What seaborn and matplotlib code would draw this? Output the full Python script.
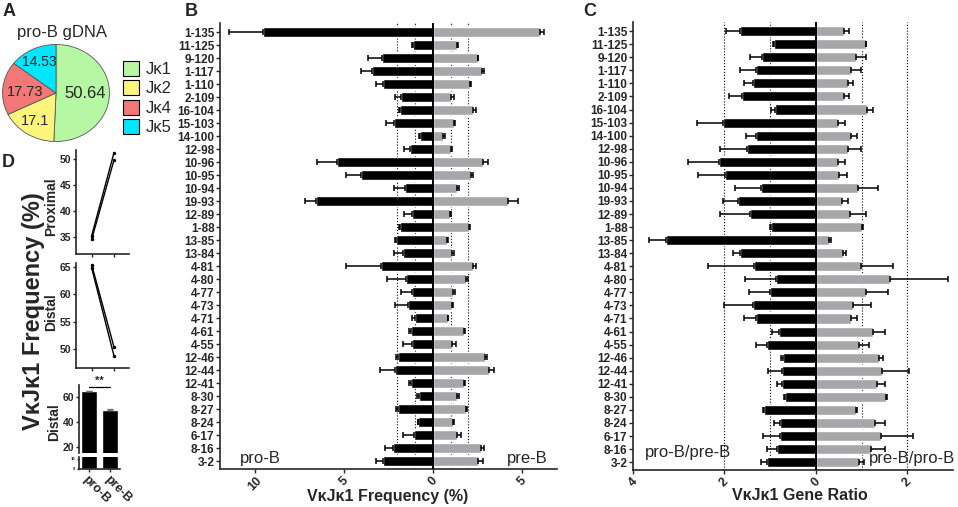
import numpy as np
import pandas as pd
import matplotlib
matplotlib.use("Agg")
import matplotlib.pyplot as plt
from matplotlib.patches import Patch
from matplotlib.ticker import FuncFormatter
import seaborn as sns

# ---- data -------------------------------------------------------------
genes = ["1-135", "11-125", "9-120", "1-117", "1-110", "2-109", "16-104", "15-103",
         "14-100", "12-98", "10-96", "10-95", "10-94", "19-93", "12-89", "1-88",
         "13-85", "13-84", "4-81", "4-80", "4-77", "4-73", "4-71", "4-61", "4-55",
         "12-46", "12-44", "12-41", "8-30", "8-27", "8-24", "6-17", "8-16", "3-2"]

# B: VkJk1 frequency (%), pro-B drawn to the left
freq_pro = [9.59, 1.13, 2.84, 3.41, 2.79, 1.77, 1.85, 2.18, 0.71, 1.28, 5.39, 4.03,
            1.56, 6.59, 1.19, 1.85, 2.07, 1.66, 2.90, 1.49, 1.15, 1.39, 1.00, 1.24,
            1.19, 1.99, 2.11, 1.24, 0.79, 1.99, 0.81, 1.07, 2.22, 2.79]
freq_pro_sem = [1.88, 0.05, 0.79, 0.62, 0.41, 0.36, 0.05, 0.44, 0.06, 0.34, 1.16, 0.89,
                0.62, 0.59, 0.43, 0.05, 0.06, 0.52, 2.02, 1.07, 0.62, 0.74, 0.20, 0.13,
                0.49, 0.06, 0.87, 0.13, 0.13, 0.06, 0.03, 0.64, 0.47, 0.43]
freq_pre = [6.06, 1.36, 2.52, 2.75, 2.11, 1.05, 2.28, 1.17, 0.60, 1.02, 2.81, 2.15,
            1.39, 4.25, 0.94, 2.05, 0.79, 1.07, 2.26, 1.88, 1.15, 1.07, 0.83, 1.73,
            1.09, 2.96, 3.15, 1.73, 1.36, 1.88, 1.11, 1.39, 2.71, 2.56]
freq_pre_sem = [0.19, 0.04, 0.04, 0.15, 0.04, 0.15, 0.15, 0.09, 0.06, 0.07, 0.32, 0.11,
                0.08, 0.53, 0.08, 0.02, 0.04, 0.13, 0.17, 0.12, 0.09, 0.06, 0.04, 0.10,
                0.23, 0.07, 0.31, 0.10, 0.13, 0.06, 0.09, 0.19, 0.19, 0.25]

# C: gene ratios
ratio_pro = [1.65, 0.91, 1.17, 1.32, 1.38, 1.62, 0.89, 2.04, 1.30, 1.51, 2.12, 1.98,
             1.20, 1.70, 1.45, 0.99, 3.28, 1.65, 1.36, 0.87, 1.00, 1.38, 1.32, 0.80,
             1.07, 0.72, 0.75, 0.75, 0.67, 1.14, 0.78, 0.78, 0.85, 1.07]
ratio_pro_sem = [0.32, 0.02, 0.28, 0.35, 0.19, 0.29, 0.10, 0.57, 0.22, 0.58, 0.67, 0.59,
                 0.56, 0.34, 0.64, 0.02, 0.37, 0.16, 1.00, 0.67, 0.46, 0.63, 0.25, 0.17,
                 0.23, 0.04, 0.29, 0.11, 0.02, 0.02, 0.13, 0.38, 0.21, 0.13]
ratio_pre = [0.62, 1.09, 0.87, 0.77, 0.71, 0.62, 1.12, 0.49, 0.76, 0.70, 0.48, 0.51,
             0.92, 0.58, 0.75, 1.01, 0.29, 0.60, 0.98, 1.63, 1.09, 0.81, 0.76, 1.25,
             0.94, 1.39, 1.45, 1.34, 1.54, 0.87, 1.29, 1.43, 1.21, 0.94]
ratio_pre_sem = [0.10, 0.01, 0.22, 0.21, 0.11, 0.10, 0.13, 0.15, 0.13, 0.28, 0.16, 0.18,
                 0.44, 0.12, 0.34, 0.02, 0.04, 0.05, 0.70, 1.27, 0.49, 0.39, 0.15, 0.27,
                 0.22, 0.08, 0.58, 0.18, 0.02, 0.02, 0.23, 0.69, 0.31, 0.11]

# A: pie
jk_labels = ["Jκ1", "Jκ2", "Jκ4", "Jκ5"]
jk_values = [50.64, 17.1, 17.73, 14.53]
jk_colors = ["#b5f7a3", "#fdf47c", "#f27878", "#00e6ff"]

# D
stages = ["pro-B", "pre-B"]
proximal_rep1 = [35.2, 51.2]
proximal_rep2 = [34.5, 49.8]
distal_rep1 = [65.4, 50.3]
distal_rep2 = [64.8, 48.7]
distal_mean = [65.1, 49.4]
distal_sem = [0.35, 0.8]

GRAY = "#a7a7a9"

sns.set_style("ticks")
plt.rcParams['font.family'] = ['Liberation Sans', 'DejaVu Sans']
plt.rcParams['font.weight'] = 'bold'
plt.rcParams['axes.linewidth'] = 1.2
plt.rcParams['xtick.major.width'] = 1.0
plt.rcParams['ytick.major.width'] = 1.0
plt.rcParams['xtick.major.size'] = 3
plt.rcParams['ytick.major.size'] = 3

W, H = 958, 507
fig = plt.figure(figsize=(W / 100, H / 100), dpi=100)


def box(l, t, r, b):
    return [l / W, 1 - b / H, (r - l) / W, (b - t) / H]


def split_bars(ax, left, left_err, right, right_err, xlim, xticks):
    n = len(genes)
    df = pd.DataFrame({"gene": genes * 2,
                       "value": list(-np.array(left)) + list(right),
                       "group": ["left"] * n + ["right"] * n})
    sns.barplot(data=df, x="value", y="gene", hue="group", dodge=False, orient="h",
                palette={"left": "black", "right": GRAY}, width=0.77, errorbar=None,
                legend=False, ax=ax, zorder=2)
    y = np.arange(n)
    z = np.zeros(n)
    ax.errorbar(-np.array(left), y, xerr=[left_err, z], fmt="none", ecolor="black",
                elinewidth=1.1, capsize=2, capthick=1.1, zorder=3)
    ax.errorbar(right, y, xerr=[z, right_err], fmt="none", ecolor="black",
                elinewidth=1.1, capsize=2, capthick=1.1, zorder=3)
    for v in (-2, -1, 1, 2):
        ax.axvline(v, color="black", ls=":", lw=0.8, zorder=1)
    ax.axvline(0, color="black", lw=1.4, zorder=4)
    ax.set_xlim(*xlim)
    ax.set_ylim(33.6, -0.7)
    ax.set_xticks(xticks)
    ax.xaxis.set_major_formatter(FuncFormatter(lambda v, p: f"{abs(v):g}"))
    ax.set_xlabel("")
    ax.set_ylabel("")
    sns.despine(ax=ax)
    ax.tick_params(axis="y", labelsize=8.5, pad=1)
    ax.tick_params(axis="x", labelsize=9, pad=1)
    for lab in ax.get_xticklabels():
        lab.set_rotation(45)
        lab.set_ha("center")


# ---- B ----------------------------------------------------------------
axB = fig.add_axes(box(220, 23, 557, 469))
split_bars(axB, freq_pro, freq_pro_sem, freq_pre, freq_pre_sem, (-12, 7), [-10, -5, 0, 5])
fig.text(240 / W, 1 - 458 / H, "pro-B", fontsize=12, weight="normal", ha="left", va="center")
fig.text(548 / W, 1 - 458 / H, "pre-B", fontsize=12, weight="normal", ha="right", va="center")
fig.text(388 / W, 1 - 496 / H, "VκJκ1 Frequency (%)", fontsize=11.5, ha="center", va="center")

# ---- C ----------------------------------------------------------------
axC = fig.add_axes(box(633, 22, 953, 470))
split_bars(axC, ratio_pro, ratio_pro_sem, ratio_pre, ratio_pre_sem, (-4, 3), [-4, -2, 0, 2])
fig.text(645 / W, 1 - 453 / H, "pro-B/pre-B", fontsize=12, weight="normal", ha="left", va="center")
fig.text(955 / W, 1 - 459 / H, "pre-B/pro-B", fontsize=12, weight="normal", ha="right", va="center")
fig.text(800 / W, 1 - 496 / H, "VκJκ1 Gene Ratio", fontsize=11.5, ha="center", va="center")

# ---- A ----------------------------------------------------------------
axA = fig.add_axes(box(2, 44, 110, 142))
wedges, _ = axA.pie(jk_values, colors=jk_colors, startangle=90, counterclock=False,
                    wedgeprops={"edgecolor": "#555555", "linewidth": 0.6})
axA.set_aspect("auto")
axA.set_xlim(-1.01, 1.01)
axA.set_ylim(-1.01, 1.01)
label_pos = [(0.55, 0.0), (-0.39, -0.57), (-0.57, 0.03), (-0.31, 0.64)]
label_size = [12, 10.5, 10.5, 10]
for v, (px, py), fs in zip(jk_values, label_pos, label_size):
    axA.text(px, py, f"{v:g}", ha="center", va="center", fontsize=fs, weight="normal")
fig.text(62 / W, 1 - 33 / H, "pro-B gDNA", fontsize=12, weight="normal", ha="center", va="center")
handles = [Patch(facecolor=c, edgecolor="black", linewidth=0.8) for c in jk_colors]
fig.legend(handles, jk_labels, loc="upper left", bbox_to_anchor=(116 / W, 1 - 54 / H),
           frameon=False, handlelength=1.0, handleheight=1.0, handletextpad=0.4,
           labelspacing=0.2, borderaxespad=0, prop={"size": 12, "weight": "normal"})

# ---- D ----------------------------------------------------------------
def paired_lines(ax, rep1, rep2, ylim, yticks):
    df = pd.DataFrame({"x": [0, 1, 0, 1], "y": rep1 + rep2, "rep": [1, 1, 2, 2]})
    sns.lineplot(data=df, x="x", y="y", units="rep", estimator=None, color="black",
                 marker="o", markersize=2.5, markeredgewidth=0, lw=1.0, ax=ax)
    ax.set_xlim(-0.7, 1.67)
    ax.set_ylim(*ylim)
    ax.set_yticks(yticks)
    ax.set_xticks([0, 1])
    ax.set_xticklabels([])
    ax.set_xlabel("")
    ax.set_ylabel("")
    sns.despine(ax=ax)
    ax.tick_params(labelsize=7.5, pad=1, length=2.5)


axP = fig.add_axes(box(76, 150, 129, 254))
paired_lines(axP, proximal_rep1, proximal_rep2, (31.7, 51.7), [35, 40, 45, 50])
axDl = fig.add_axes(box(76, 263, 129, 368))
paired_lines(axDl, distal_rep1, distal_rep2, (46.5, 65.7), [50, 55, 60, 65])

axBarTop = fig.add_axes(box(79, 385, 120, 453))
axBarBot = fig.add_axes(box(79, 457, 120, 469))
for ax in (axBarTop, axBarBot):
    sns.barplot(x=stages, y=distal_mean, color="black", width=0.74, errorbar=None, ax=ax)
    ax.set_xlim(-0.45, 1.45)
axBarTop.errorbar([0, 1], distal_mean, yerr=[[0, 0], distal_sem], fmt="none",
                  ecolor="#777777", elinewidth=0.8, capsize=2)
axBarTop.set_ylim(15, 70)
axBarTop.set_yticks([20, 40, 60])
axBarTop.set_xticks([])
sns.despine(ax=axBarTop, bottom=True)
axBarTop.tick_params(labelsize=7.5, pad=1, length=2.5)
axBarBot.set_ylim(0, 12)
axBarBot.set_yticks([0, 10])
axBarBot.tick_params(axis="y", labelsize=3, pad=1, length=1.5)
axBarBot.tick_params(axis="x", labelsize=9, pad=1, length=2.5)
sns.despine(ax=axBarBot)
for lab in axBarBot.get_xticklabels():
    lab.set_rotation(-45)
    lab.set_ha("left")
    lab.set_rotation_mode("anchor")
axBarTop.plot([0, 1], [68.5, 68.5], color="black", lw=0.9, clip_on=False)
axBarTop.text(0.5, 69.5, "**", ha="center", va="bottom", fontsize=8)

fig.text(34 / W, 1 - 311 / H, "VκJκ1 Frequency (%)", rotation=90, fontsize=17,
         ha="center", va="center")
fig.text(51 / W, 1 - 207 / H, "Proximal", rotation=90, fontsize=10, ha="center", va="center")
fig.text(51 / W, 1 - 312 / H, "Distal", rotation=90, fontsize=10, ha="center", va="center")
fig.text(54 / W, 1 - 422 / H, "Distal", rotation=90, fontsize=10, ha="center", va="center")

# panel letters
for letter, (px, py) in zip("ABCD", [(9, 12), (191, 12), (590, 11), (8, 162)]):
    fig.text(px / W, 1 - py / H, letter, fontsize=13, ha="center", va="center")

fig.savefig("out.png", dpi=100)
